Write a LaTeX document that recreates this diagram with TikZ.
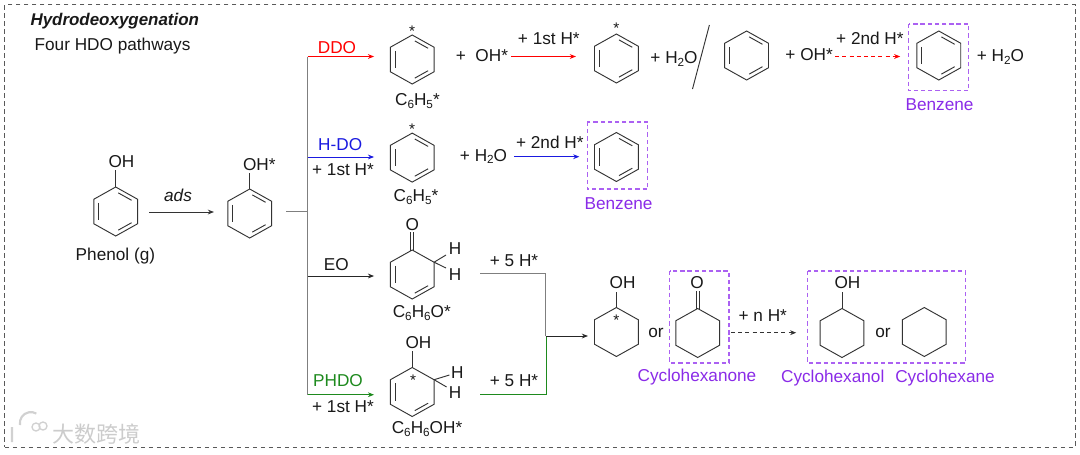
\documentclass[tikz,border=0pt]{standalone}
\usepackage{fontspec}
\setmainfont{Liberation Sans}
\newfontfamily\cjkwm{Noto Sans CJK SC}
\usetikzlibrary{arrows.meta}
\definecolor{pur}{HTML}{8A2BE8}
\definecolor{boxviolet}{rgb}{0.67,0.38,0.95}
\definecolor{trunkgray}{HTML}{7F7F7F}
\definecolor{hdoblue}{HTML}{1A1AE0}
\definecolor{dgreen}{HTML}{1E8A1E}
\definecolor{bondc}{HTML}{333333}
\newcommand\lowsub[1]{\raisebox{-0.32ex}{\fontsize{8.8}{9}\selectfont #1}}
\tikzset{
  lbl/.style={inner sep=0pt,font=\fontsize{12.9}{15}\selectfont,text=black!90},
  star/.style={inner sep=0pt,font=\fontsize{11.5}{12}\selectfont,text=black!90},
  purlbl/.style={inner sep=0pt,font=\fontsize{12.9}{15}\selectfont,text=pur},
  bond/.style={draw=bondc,line width=0.7pt,line join=miter},
  ringnode/.style={inner sep=0pt,minimum height=49*0.75pt},
  arr/.style={line width=0.65pt,-{Stealth[length=4.6pt,width=3.6pt]}},
  plain/.style={line width=0.75pt},
  prodframe/.style={color=boxviolet,dash pattern=on 3.2pt off 2.2pt,line width=0.8pt},
}
% #1 node name, #2 x, #3 y, #4 half-width of the node (reach of incoming arrow), #5 inner lines
\newcommand\ringshape[5]{%
  \node[ringnode,minimum width=#4*1.5pt] (#1) at (#2,#3) {};
  \begin{scope}[shift={(#2,#3)}]
    \draw[bond] (0,-24.5)--(21.9,-12.25)--(21.9,12.25)--(0,24.5)--(-21.9,12.25)--(-21.9,-12.25)--cycle;
    #5
  \end{scope}}
\newcommand\dbtop{\draw[bond] (2.6,-18.6)--(15.9,-11.2);}
\newcommand\dbleft{\draw[bond] (-17,-8.6)--(-17,8.6);}
\newcommand\dbbot{\draw[bond] (15.9,11.2)--(2.6,18.6);}
\begin{document}
\begin{tikzpicture}[x=0.75pt,y=-0.75pt]
\useasboundingbox (0,0) rectangle (1080,454);
\fill[white] (0,0) rectangle (1080,454);

% watermark
\node[inner sep=0pt,font=\cjkwm\fontsize{16.5}{17}\selectfont,text=black!20] (wm) at (96,434.5) {大数跨境};
\draw[black!18,line width=1.6pt] (12,427) -- (12,442) (20,425) arc[start angle=170,end angle=300,radius=11];
\draw[black!18,line width=1pt] (36,427) circle[radius=4] (43,426) circle[radius=4];

% outer frame
\node[draw=black!65,dash pattern=on 3.4pt off 2.6pt,line width=0.6pt,inner sep=0pt,minimum width=1070.5*0.75pt,minimum height=442.5*0.75pt] (frame) at (540,225.9) {};

% product boxes
\draw[prodframe] (807.6,271) rectangle (965.6,363);
\draw[prodframe] (669.5,271) rectangle (729,363);
\draw[prodframe] (587.2,122) rectangle (647.8,189);
\draw[prodframe] (908.5,24) rectangle (968.7,90.7);

% titles
\node[lbl,anchor=west,font=\fontsize{12.7}{15}\selectfont\bfseries\itshape] (title) at (30.3,21) {Hydrodeoxygenation};
\node[lbl,anchor=west] (subtitle) at (34.4,46) {Four HDO pathways};

% rings
\ringshape{A}{115.7}{211.5}{32}{\dbtop\dbleft\dbbot}
\ringshape{B}{249.7}{213.5}{35.5}{\dbtop\dbleft\dbbot}
\ringshape{C}{412.2}{59.5}{37.9}{\dbtop\dbleft\dbbot}
\ringshape{D}{412.2}{157.6}{37.9}{\dbtop\dbleft\dbbot}
\ringshape{E}{412.2}{274.5}{37.9}{\dbleft\dbbot}
\ringshape{F}{412.2}{392}{37.9}{\dbleft\dbbot}
\ringshape{G}{616.4}{58.5}{40.2}{\dbtop\dbleft\dbbot}
\ringshape{H}{746.6}{55.5}{30}{\dbtop\dbleft\dbbot}
\ringshape{I}{938.8}{55.5}{38.3}{\dbtop\dbleft\dbbot}
\ringshape{J}{616.4}{157}{36.8}{\dbtop\dbleft\dbbot}
\ringshape{K}{616.4}{332}{28.2}{}
\ringshape{L}{697.7}{333}{30}{}
\ringshape{M}{842}{333}{45.5}{}
\ringshape{N}{924.3}{332}{30}{}

% substituents
\node[lbl] (Aoh) at (121.5,162) {OH};
\draw[bond] (115.7,187) -- (115.7,170);
\node[lbl] (Boh) at (259.3,165) {OH*};
\draw[bond] (249.7,189) -- (249.7,173);
\node[star] (Cs) at (412.2,31) {*};
\node[star] (Ds) at (412.2,129) {*};
\node[star] (Gs) at (616.4,28) {*};
\node[lbl] (Eo) at (412.2,225) {O};
\draw[bond] (410.6,250.5) -- (410.6,232) (413.8,250.5) -- (413.8,232);
\node[lbl] (Eh1) at (455,249) {H};
\node[lbl] (Eh2) at (455,275) {H};
\draw[bond] (434.1,262.2) -- (446,255) (434.1,262.2) -- (446,268);
\node[lbl] (Foh) at (418.4,343) {OH};
\draw[bond] (412.2,367.5) -- (412.2,351);
\node[star] (Fs) at (413.2,380) {*};
\node[lbl] (Fh1) at (457.3,373) {H};
\node[lbl] (Fh2) at (455,393) {H};
\draw[bond] (434.1,379.7) -- (449.4,375) (434.1,379.7) -- (446.6,387);
\node[lbl] (Koh) at (622.6,283) {OH};
\draw[bond] (616.4,307.5) -- (616.4,292);
\node[star] (Ks) at (616.4,320) {*};
\node[lbl] (Lo) at (697,283) {O};
\draw[bond] (696.1,308.5) -- (696.1,291) (699.3,308.5) -- (699.3,291);
\node[lbl] (Moh) at (847.5,283) {OH};
\draw[bond] (842,308.5) -- (842,292);

% formula labels
\node[lbl] (phenol) at (115.4,256) {Phenol (g)};
\node[lbl] (c1) at (417.4,101) {C\lowsub{6}H\lowsub{5}*};
\node[lbl] (c2) at (416,197) {C\lowsub{6}H\lowsub{5}*};
\node[lbl] (c3) at (421.8,313) {C\lowsub{6}H\lowsub{6}O*};
\node[lbl] (c4) at (427,429) {C\lowsub{6}H\lowsub{6}OH*};

% branching
\node[lbl,font=\fontsize{12.9}{15}\selectfont\itshape] (ads) at (178,195) {ads};
\coordinate (a0) at (149,212);
\draw[arr,draw=black!80] (a0) -- (a0 -| B.west);
\coordinate (stub) at (286,211.7);
\coordinate (t0) at (307.5,211.7);
\coordinate (tDDO) at (307.5,56.5);
\coordinate (tHDO) at (307.5,157);
\coordinate (tEO) at (307.5,276);
\coordinate (tPH) at (307.5,394.7);
\draw[plain,draw=trunkgray] (stub) -- (t0);
\draw[plain,draw=trunkgray] (tDDO) -- (tPH);
\draw[arr,draw=red] (tDDO) -- (tDDO -| C.west);
\draw[arr,draw=hdoblue] (tHDO) -- (tHDO -| D.west);
\draw[arr,draw=black!85] (tEO) -- (tEO -| E.west);
\draw[arr,draw=dgreen] (tPH) -- (tPH -| F.west);
\node[lbl,text=red] (lDDO) at (337,47.5) {DDO};
\node[lbl,text=hdoblue] (lHDO) at (340.2,145) {H-DO};
\node[lbl] (l1st) at (343,170) {+ 1st H*};
\node[lbl] (lEO) at (336.4,265) {EO};
\node[lbl,text=dgreen] (lPH) at (338,381) {PHDO};
\node[lbl] (l1st2) at (343,407) {+ 1st H*};

% DDO row
\node[lbl,anchor=west] (p1) at (455.6,56) {+\ \ OH*};
\coordinate (s1) at (511.4,56.5);
\draw[arr,draw=red] (s1) -- (s1 -| G.west);
\node[lbl] (l1) at (548.8,39) {+ 1st H*};
\node[lbl,anchor=west] (p2) at (650.2,59) {+ H\lowsub{2}O};
\draw[bond,line width=0.7pt] (709.4,25) -- (692.5,89);
\node[lbl,anchor=west] (p3) at (785.2,55) {+ OH*};
\coordinate (s2) at (835.1,56.5);
\draw[arr,draw=red,dash pattern=on 3pt off 2.4pt] (s2) -- (s2 -| I.west);
\node[lbl] (l2) at (869.9,38.6) {+ 2nd H*};
\node[lbl,anchor=west] (p4) at (976.6,57) {+ H\lowsub{2}O};
\node[purlbl] (bz1) at (939.5,105) {Benzene};

% H-DO row
\node[lbl,anchor=west] (p5) at (459.7,156.5) {+ H\lowsub{2}O};
\coordinate (s3) at (514,156.7);
\draw[arr,draw=hdoblue] (s3) -- (s3 -| J.west);
\node[lbl] (l3) at (549.8,142.7) {+ 2nd H*};
\node[purlbl] (bz2) at (618.5,204) {Benzene};

% merging
\node[lbl] (l5a) at (514,261) {+ 5 H*};
\node[lbl] (l5b) at (514,381) {+ 5 H*};
\coordinate (m1) at (480.4,273);
\coordinate (m2) at (545.9,273);
\coordinate (m0) at (545.9,336);
\coordinate (m3) at (545.9,394.7);
\coordinate (m4) at (480.4,394.7);
\draw[plain,draw=trunkgray,line width=0.7pt] (m1) -- (m2) -- (m0);
\draw[plain,draw=dgreen,line width=0.6pt] (m4) -- (m3) -- (m0);
\draw[arr,draw=black!85] (m0) -- (m0 -| K.west);

% last row
\node[lbl] (or1) at (656,333) {or};
\node[purlbl] (cyc1) at (697,377) {Cyclohexanone};
\node[lbl] (ln) at (762.8,316) {+ n H*};
\coordinate (s4) at (731,332.7);
\draw[arr,draw=black!80,dash pattern=on 3pt off 2.4pt] (s4) -- (s4 -| M.west);
\node[lbl] (or2) at (883,333) {or};
\node[purlbl] (cyc2) at (832.7,378) {Cyclohexanol};
\node[purlbl] (cyc3) at (945,378) {Cyclohexane};
\end{tikzpicture}
\end{document}
